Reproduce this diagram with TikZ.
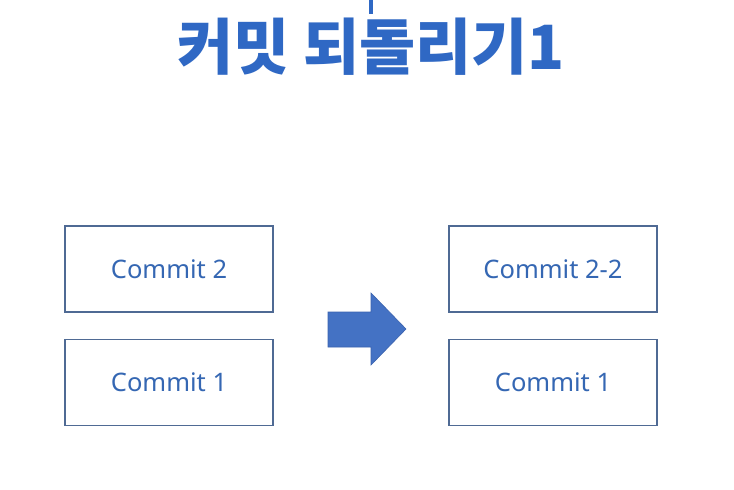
\documentclass[tikz,border=0pt]{standalone}
\usepackage{fontspec}
\setmainfont{Noto Sans}
\newfontfamily\krfont{Noto Sans CJK KR}
\usetikzlibrary{
  positioning,
  calc
}
\definecolor{gtblue}{HTML}{2F68C4}
\definecolor{gtframe}{HTML}{4F6A94}
\definecolor{gttext}{HTML}{3567B3}
\definecolor{gtarrow}{HTML}{4472C4}
\definecolor{gtarrowdark}{HTML}{3A62AE}

\begin{document}
\begin{tikzpicture}[
      x=1pt, y=-1pt,
      commit/.style={
        rectangle, draw=gtframe, line width=1.1pt, fill=white,
        minimum width=208pt, minimum height=86pt,
        font=\fontsize{25.5}{30}\selectfont\color{gttext}
      },
      title/.style={font=\krfont\bfseries\fontsize{61}{68}\selectfont\color{gtblue}}
    ]
      \useasboundingbox[fill=white] (0,0) rectangle (734,490);

      % Title
      \fill[gtblue] (369,0) rectangle (373,14);
      \node[title] (title) at (371,47) {커밋 되돌리기1};

      % Before
      \node[commit] (c2) at (169,269) {Commit 2};
      \node[commit, below=26pt of c2] (c1) {Commit 1};

      % After
      \node[commit] (c22) at (553,269) {Commit 2-2};
      \node[commit, below=26pt of c22] (c1b) {Commit 1};

      % Big arrow
      \fill[gtarrow, draw=gtarrowdark, line width=0.6pt]
        (328,312) -- (371,312) -- (371,293) -- (406,329)
        -- (371,365) -- (371,347) -- (328,347) -- cycle;
    \end{tikzpicture}
\end{document}
